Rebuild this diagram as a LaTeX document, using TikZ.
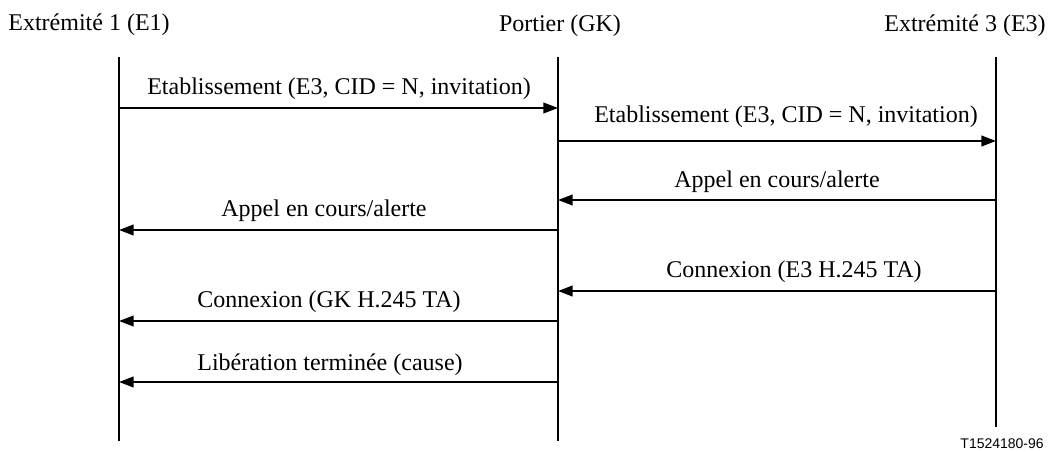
\documentclass[tikz,border=0pt]{standalone}
\usepackage{fontspec}
\setmainfont{Liberation Serif}
\newfontfamily\tagfont{Liberation Sans}
\usetikzlibrary{arrows.meta}

\begin{document}
\begin{tikzpicture}[
    x=0.75pt, y=-0.75pt,
    party/.style={font=\fontsize{18}{21}\selectfont, inner sep=0pt, anchor=base},
    msglabel/.style={party},
    lifeline/.style={line width=1.5pt},
    signal/.style={line width=1.5pt, -{Triangle[length=11pt,width=8pt]}},
]
\useasboundingbox (0,0) rectangle (1050,452);
\pgfmathsetmacro{\xE}{119}
\pgfmathsetmacro{\xG}{558}
\pgfmathsetmacro{\xT}{996}
% parties
\node[party] (e1) at (89,31) {Extrémité 1 (E1)};
\node[party] (gk) at (560,32) {Portier (GK)};
\node[party] (e3) at (965,32) {Extrémité 3 (E3)};
% lifelines
\coordinate (e1top) at (\xE,57);
\coordinate (e1bot) at (\xE,441);
\coordinate (gktop) at (\xG,57);
\coordinate (gkbot) at (\xG,441);
\coordinate (e3top) at (\xT,57);
\coordinate (e3bot) at (\xT,427);
\draw[lifeline] (e1top) -- (e1bot);
\draw[lifeline] (gktop) -- (gkbot);
\draw[lifeline] (e3top) -- (e3bot);
% messages
\coordinate (m1s) at (\xE,108);
\coordinate (m1t) at (\xG,108);
\draw[signal] (m1s) -- (m1t);
\node[msglabel] (l1) at (339,95) {Etablissement (E3, CID = N, invitation)};
\coordinate (m2s) at (\xG,141);
\coordinate (m2t) at (\xT,141);
\draw[signal] (m2s) -- (m2t);
\node[msglabel] (l2) at (786,123) {Etablissement (E3, CID = N, invitation)};
\coordinate (m3s) at (\xT,200);
\coordinate (m3t) at (\xG,200);
\draw[signal] (m3s) -- (m3t);
\node[msglabel] (l3) at (777,188) {Appel en cours/alerte};
\coordinate (m4s) at (\xG,230);
\coordinate (m4t) at (\xE,230);
\draw[signal] (m4s) -- (m4t);
\node[msglabel] (l4) at (324,217) {Appel en cours/alerte};
\coordinate (m5s) at (\xT,291);
\coordinate (m5t) at (\xG,291);
\draw[signal] (m5s) -- (m5t);
\node[msglabel] (l5) at (794,278) {Connexion (E3 H.245 TA)};
\coordinate (m6s) at (\xG,321);
\coordinate (m6t) at (\xE,321);
\draw[signal] (m6s) -- (m6t);
\node[msglabel] (l6) at (329,308) {Connexion (GK H.245 TA)};
\coordinate (m7s) at (\xG,382);
\coordinate (m7t) at (\xE,382);
\draw[signal] (m7s) -- (m7t);
\node[msglabel] (l7) at (330,370) {Libération terminée (cause)};
% figure tag
\node[font=\tagfont\fontsize{10.5}{12}\selectfont, inner sep=0pt, anchor=base east] (tag) at (1044,448) {T1524180-96};
\end{tikzpicture}
\end{document}
